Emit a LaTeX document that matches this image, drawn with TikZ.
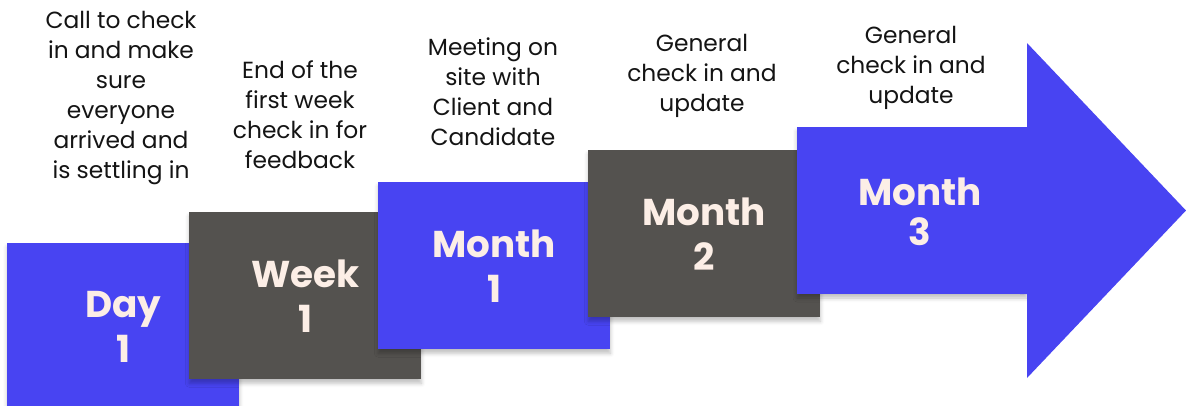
\documentclass[tikz,border=0pt]{standalone}
\usepackage{fontspec}
\setmainfont{Poppins}
\usetikzlibrary{shadows.blur}

\definecolor{stepblue}{HTML}{4844F2}
\definecolor{stepgray}{HTML}{54524F}
\definecolor{stepcream}{HTML}{FCEEE6}

\tikzset{
	phase/.style={fill=#1, minimum width=174pt, minimum height=125.25pt, inner sep=0pt,
		anchor=north west, text=stepcream, align=center,
		font=\fontsize{28}{33.75}\selectfont\bfseries,
		blur shadow={shadow xshift=0pt, shadow yshift=-3pt, shadow opacity=25, shadow blur radius=3pt}},
	note/.style={align=center, text=black!92, font=\fontsize{17.5}{22.5}\selectfont}
}

\begin{document}
\begin{tikzpicture}[x=0.75pt, y=-0.75pt]
	
	\clip (0, 0) rectangle (1186, 405);
	
	% steps
	\node[phase=stepblue] (day) at (7, 243)     {Day\\1};
	\node[phase=stepgray] (week) at (189, 212)     {Week\\1};
	\node[phase=stepblue] (monthA) at (378, 182)     {Month\\1};
	\node[phase=stepgray] (monthB) at (588, 150)     {Month\\2};
	
	% big arrow
	\fill[stepblue, blur shadow={shadow xshift=0pt, shadow yshift=-3pt, shadow opacity=25, shadow blur radius=3pt}] (797, 127) rectangle (1027, 294);
	\fill[stepblue] (1020, 127) -- (1027, 127) -- (1027, 43) -- (1186, 210.5) -- (1027, 378) -- (1027, 294) -- (1020, 294) -- cycle;
	\node[text=stepcream, align=center, font=\fontsize{28}{30}\selectfont\bfseries] (monthC) at (920, 212)     {Month\\3};
	
	% notes
	\node[note] (noteDay) at (121, 98)     {Call to check\\in and make\\sure\\everyone\\arrived and\\is settling in};
	\node[note] (noteWeek) at (300, 115)     {End of the\\first week\\check in for\\feedback};
	\node[note] (noteA) at (493, 92)     {Meeting on\\site with\\Client and\\Candidate};
	\node[note] (noteB) at (702, 76)     {General\\check in and\\update};
	\node[note] (noteC) at (911, 68)     {General\\check in and\\update};
	
\end{tikzpicture}
\end{document}
